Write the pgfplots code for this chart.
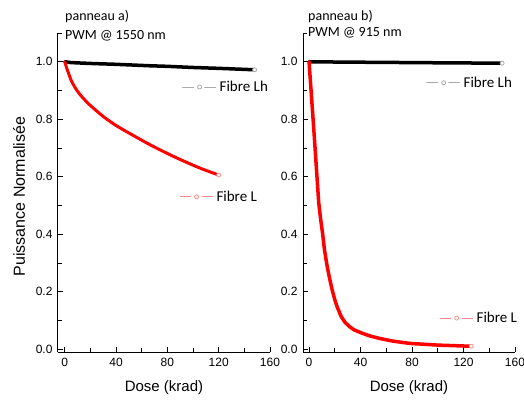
\documentclass[border=0pt]{standalone}
\usepackage{pgfplots}
\pgfplotsset{compat=1.18}
\usepackage{fontspec}
\setmainfont{Liberation Sans}
\newfontfamily\calfont{Carlito}

\definecolor{legblack}{RGB}{170,170,170}
\definecolor{legred}{RGB}{255,140,140}

\pgfplotsset{
  panel/.style={
    scale only axis, width=212pt, height=319pt,
    xmin=-5.3, xmax=160, ymin=-0.01, ymax=1.1,
    axis x line*=bottom, axis y line*=left,
    axis line style={line width=1pt},
    every tick/.style={line width=0.8pt, black},
    tick align=inside,
    major tick length=5pt, minor tick length=4pt,
    xtick={0,40,80,120,160}, xticklabels={0,40,80,120,160},
    ytick={0,0.2,0.4,0.6,0.8,1.0},
    yticklabels={0.0,0.2,0.4,0.6,0.8,1.0},
    minor xtick={20,60,100,140},
    minor ytick={0.1,0.3,0.5,0.7,0.9,1.1},
    ticklabel style={font=\fontsize{12}{14}\selectfont},
    xticklabel style={yshift=-3pt},
    yticklabel style={xshift=-2pt},
    xlabel={Dose (krad)},
    xlabel style={font=\fontsize{15}{17}\selectfont, at={(axis description cs:0.5,-0.113)}, anchor=center},
    clip=false,
  },
  ovl/.style={
    scale only axis, width=212pt, height=319pt,
    xmin=-5.3, xmax=160, ymin=-0.01, ymax=1.1,
    hide axis, clip=false,
  },
  leg/.style={
    legend style={draw=none, fill=none, inner sep=0pt, nodes={inner sep=0pt},
      font=\calfont\fontsize{15}{17}\selectfont, legend cell align=left},
    legend image code/.code={
      \path[draw=none, fill=none] (0pt,0pt) -- (37pt,0pt);
      \draw[#1, line width=0.8pt] (0pt,0pt) -- (11pt,0pt);
      \draw[#1, line width=0.8pt] (22pt,0pt) -- (33pt,0pt);
      \draw[#1, line width=0.8pt, fill=white] (17pt,0pt) circle (2pt);
    },
  },
  endmark/.style={only marks, mark=*, mark size=2pt, draw=#1, fill=white,
    mark options={fill=white, line width=0.8pt}, forget plot},
}

\begin{document}
\begin{tikzpicture}
\path[use as bounding box] (-58pt,-49pt) rectangle (466pt,352pt);

% panneau a)
\begin{axis}[panel, at={(0pt,0pt)}, anchor=south west,
  ylabel={Puissance Normalisée},
  ylabel style={font=\fontsize{16}{18}\selectfont, at={(axis description cs:-0.184,0.487)}, anchor=center},
  leg=legblack,
  legend style={at={(axis cs:91.4,0.912)}, anchor=west}]
\addplot[black, line width=3.5pt, line cap=round] coordinates {
  (0,1.0) (5,0.997) (20,0.994) (40,0.991) (66,0.986) (80,0.984) (100,0.980) (120,0.977) (148,0.972)};
\addlegendentry{Fibre Lh}
\addplot[red, line width=3pt, line cap=round, forget plot, smooth] coordinates {
  (0,1.0) (1,0.985) (2.5,0.965) (5,0.935) (8,0.91) (12,0.885) (18,0.856) (25,0.828)
  (31,0.806) (40,0.778) (50,0.752) (60,0.727) (70,0.703) (85,0.670) (100,0.640)
  (110,0.622) (120,0.606)};
\addplot[endmark=legblack] coordinates {(148,0.972)};
\addplot[endmark=legred] coordinates {(120,0.606)};
\end{axis}
\begin{axis}[ovl, at={(0pt,0pt)}, anchor=south west,
  leg=legred,
  legend style={at={(axis cs:89,0.53)}, anchor=west}]
\addplot[draw=none] coordinates {(0,0)};
\addlegendentry{Fibre L}
\end{axis}
\node[anchor=west, inner sep=0pt, font=\calfont\fontsize{14}{16}\selectfont] at (7pt,335pt) {panneau a)};
\node[anchor=west, inner sep=0pt, font=\calfont\fontsize{14}{16}\selectfont] at (7pt,316pt) {PWM @ 1550 nm};

% panneau b)
\begin{axis}[panel, at={(245pt,0pt)}, anchor=south west,
  xmin=-4.7,
  leg=legblack,
  legend style={at={(axis cs:90.9,0.927)}, anchor=west}]
\addplot[black, line width=3.5pt, line cap=round] coordinates {
  (0,1.0) (20,0.999) (50,0.998) (80,0.997) (110,0.996) (150,0.995)};
\addlegendentry{Fibre Lh}
\addplot[red, line width=3.5pt, line cap=round, line join=round, forget plot] coordinates {
  (0,1.0) (3.8,0.757) (7.5,0.51) (9,0.452) (10.5,0.403) (12,0.345) (14,0.29)
  (16,0.245) (18,0.205) (20,0.172) (22,0.145) (25,0.113) (28,0.093) (31.5,0.078)
  (35,0.067) (42,0.054) (48,0.045) (55,0.037) (65,0.028) (78,0.020) (100,0.014)
  (126,0.010)};
\addplot[endmark=legblack] coordinates {(150,0.995)};
\addplot[endmark=legred] coordinates {(126,0.010)};
\end{axis}
\begin{axis}[ovl, at={(245pt,0pt)}, anchor=south west,
  xmin=-4.7,
  leg=legred,
  legend style={at={(axis cs:101,0.108)}, anchor=west}]
\addplot[draw=none] coordinates {(0,0)};
\addlegendentry{Fibre L}
\end{axis}
\node[anchor=west, inner sep=0pt, font=\calfont\fontsize{14}{16}\selectfont] at (250pt,335pt) {panneau b)};
\node[anchor=west, inner sep=0pt, font=\calfont\fontsize{14}{16}\selectfont] at (250pt,319pt) {PWM @ 915 nm};
\end{tikzpicture}
\end{document}
